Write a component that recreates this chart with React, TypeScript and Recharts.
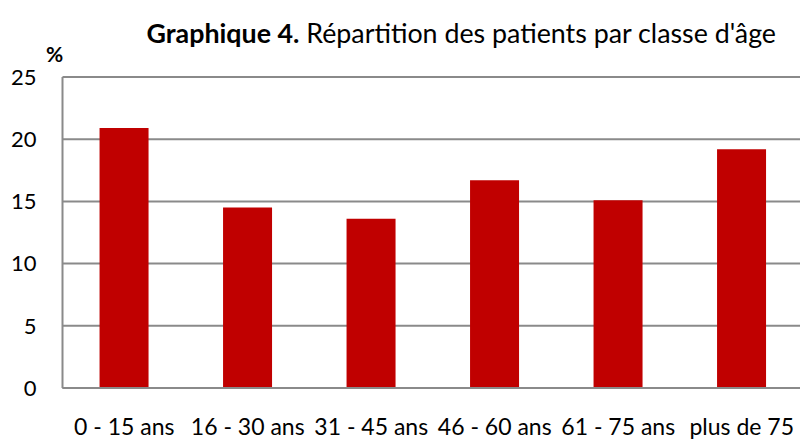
import React from "react";
import { BarChart, Bar, XAxis, YAxis, CartesianGrid } from "recharts";

const categories = ["0 - 15 ans", "16 - 30 ans", "31 - 45 ans", "46 - 60 ans", "61 - 75 ans", "plus de 75"];
const percentages = [20.9, 14.5, 13.6, 16.7, 15.1, 19.2];
const yTicks = [0, 5, 10, 15, 20, 25];

const data = categories.map((c, i) => ({ name: c, value: percentages[i] }));

const FONT = "Lato, 'Open Sans', sans-serif";
const GRAY = "#8a8a8a";

export default function App() {
  return (
    <div style={{ position: "absolute", left: 0, top: 0, width: 800, height: 441, overflow: "hidden", background: "#fff", fontFamily: FONT }}>
      <div style={{ position: "absolute", right: 24, top: 20, fontSize: 26.8, whiteSpace: "nowrap", color: "#000", lineHeight: "27px" }}>
        <b>Graphique 4.</b> Répartition des patients par classe d'âge
      </div>
      <div style={{ position: "absolute", left: 46, top: 43, fontSize: 21, fontWeight: "bold", color: "#000", lineHeight: "21px" }}>%</div>
      <div style={{ position: "absolute", left: 0, top: 0 }}>
        <BarChart
          width={810}
          height={441}
          data={data}
          margin={{ top: 77, right: 6.5, bottom: 0, left: 0 }}
          barCategoryGap="30%"
        >
          <CartesianGrid vertical={false} stroke={GRAY} strokeWidth={2} />
          <XAxis
            dataKey="name"
            height={53}
            tickLine={false}
            tickSize={0}
            tickMargin={31}
            axisLine={{ stroke: GRAY, strokeWidth: 2 }}
            tick={{ fill: "#000", fontSize: 23, fontFamily: FONT }}
            interval={0}
          />
          <YAxis
            width={62.5}
            domain={[0, 25]}
            ticks={yTicks}
            tickLine={false}
            tickSize={0}
            tickMargin={26}
            axisLine={{ stroke: GRAY, strokeWidth: 2 }}
            tick={{ fill: "#000", fontSize: 22, fontFamily: FONT }}
          />
          <Bar dataKey="value" fill="#C00000" isAnimationActive={false} />
        </BarChart>
      </div>
    </div>
  );
}
